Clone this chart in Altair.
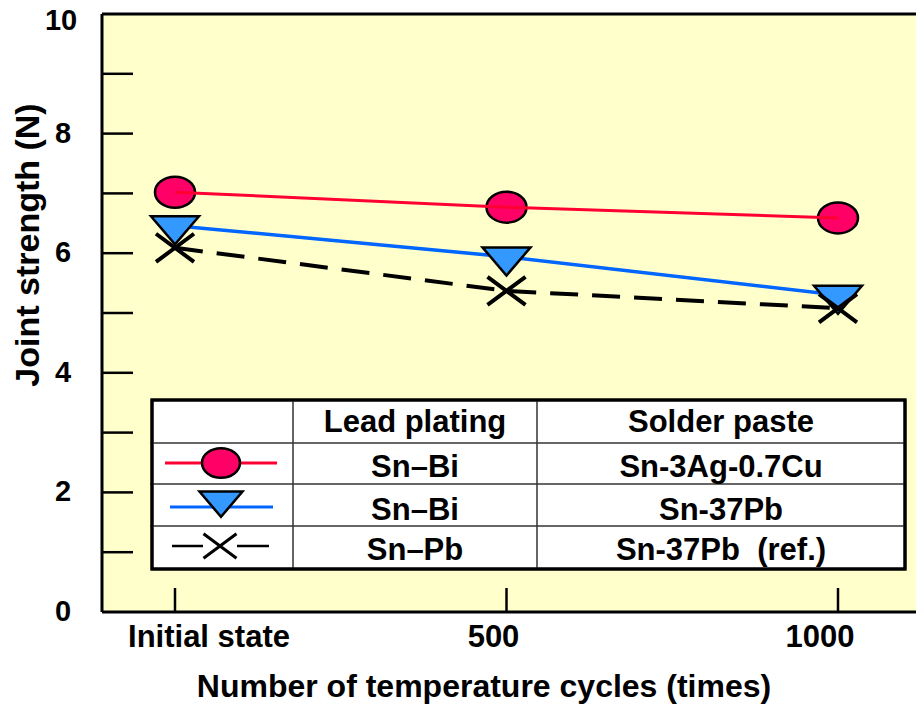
import altair as alt
import pandas as pd

# ---------------- data ----------------
categories = ["Initial state", "500", "1000"]
cycle_idx = [0, 1, 2]
snbi_sac = [7.02, 6.77, 6.59]      # Sn-Bi plating / Sn-3Ag-0.7Cu paste
snbi_snpb = [6.46, 5.94, 5.30]     # Sn-Bi plating / Sn-37Pb paste
snpb_snpb = [6.09, 5.37, 5.08]     # Sn-Pb plating / Sn-37Pb paste (ref.)
lead_plating = ["Sn–Bi", "Sn–Bi", "Sn–Pb"]
solder_paste = ["Sn-3Ag-0.7Cu", "Sn-37Pb", "Sn-37Pb\u00a0 (ref.)"]
header = ["Lead plating", "Solder paste"]
y_label_values = [0, 2, 4, 6, 8, 10]
y_minor_ticks = [1, 2, 3, 4, 5, 6, 7, 8, 9]

FONT = "Liberation Sans"
W, H = 814, 598
BG = "#FFFFCC"
RED_LINE, RED_FILL = "#FF0033", "#FF0066"
BLUE_LINE, BLUE_FILL = "#0066FF", "#3399FF"

ELLIPSE = ("M-1,0C-1,-0.428 -0.552,-0.775 0,-0.775C0.552,-0.775 1,-0.428 1,0"
           "C1,0.428 0.552,0.775 0,0.775C-0.552,0.775 -1,0.428 -1,0Z")
TRI_DOWN = "M-1,-0.39L1,-0.39L0,0.78Z"
XMARK = "M-1,-0.74L1,0.74M-1,0.74L1,-0.74"

xscale = alt.Scale(domain=[-0.2202, 2.2353], nice=False, zero=False)
yscale = alt.Scale(domain=[0, 10], nice=False, zero=True)

def series_df(vals):
    return pd.DataFrame({"idx": cycle_idx, "v": vals})

one = pd.DataFrame({"a": [0]})
X = alt.X("idx:Q", scale=xscale, axis=None)
Y = alt.Y("v:Q", scale=yscale, axis=None)

layers = []

# minor ticks on y (inside)
layers.append(alt.Chart(pd.DataFrame({"v": y_minor_ticks})).mark_rule(
    color="black", strokeWidth=2.5).encode(
    y=Y, x=alt.value(0), x2=alt.value(31)))
# x ticks (inside)
layers.append(alt.Chart(pd.DataFrame({"idx": cycle_idx})).mark_rule(
    color="black", strokeWidth=2.5).encode(
    x=X, y=alt.value(574), y2=alt.value(598)))
# borders (left, top, bottom)
layers.append(alt.Chart(one).mark_rule(color="black", strokeWidth=3).encode(
    x=alt.value(0), y=alt.value(0), y2=alt.value(H)))
layers.append(alt.Chart(one).mark_rule(color="black", strokeWidth=3).encode(
    x=alt.value(0), x2=alt.value(W), y=alt.value(0)))
layers.append(alt.Chart(one).mark_rule(color="black", strokeWidth=3).encode(
    x=alt.value(0), x2=alt.value(W), y=alt.value(H)))

# series
layers.append(alt.Chart(series_df(snbi_snpb)).mark_line(
    color=BLUE_LINE, strokeWidth=3.5).encode(x=X, y=Y))
layers.append(alt.Chart(series_df(snbi_snpb)).mark_point(
    shape=TRI_DOWN, size=2304, filled=True, fill=BLUE_FILL, stroke="black",
    strokeWidth=2.5, opacity=1).encode(x=X, y=Y))
layers.append(alt.Chart(series_df(snpb_snpb)).mark_line(
    color="black", strokeWidth=4, strokeDash=[28, 14]).encode(x=X, y=Y))
layers.append(alt.Chart(series_df(snpb_snpb)).mark_point(
    shape=XMARK, size=1444, filled=False, stroke="black",
    strokeWidth=4, opacity=1).encode(x=X, y=Y))
layers.append(alt.Chart(series_df(snbi_sac)).mark_point(
    shape=ELLIPSE, size=1600, filled=True, fill=RED_FILL, stroke="black",
    strokeWidth=2.5, opacity=1).encode(x=X, y=Y))
layers.append(alt.Chart(series_df(snbi_sac)).mark_line(
    color=RED_LINE, strokeWidth=3).encode(x=X, y=Y))

# legend table
TL, TR, TT, TB = 50, 803, 386, 555
layers.append(alt.Chart(one).mark_rect(fill="white", stroke="black", strokeWidth=3).encode(
    x=alt.value(TL), x2=alt.value(TR), y=alt.value(TT), y2=alt.value(TB)))
for yy in [429, 470, 512]:
    layers.append(alt.Chart(one).mark_rule(color="#333333", strokeWidth=1.5).encode(
        x=alt.value(TL - 2), x2=alt.value(TR), y=alt.value(yy)))
for xx in [191, 435]:
    layers.append(alt.Chart(one).mark_rule(color="#333333", strokeWidth=1.5).encode(
        x=alt.value(xx), y=alt.value(TT), y2=alt.value(TB)))
layers.append(alt.Chart(one).mark_rect(fill=None, stroke="black", strokeWidth=3).encode(
    x=alt.value(TL), x2=alt.value(TR), y=alt.value(TT), y2=alt.value(TB)))

col_x = [313, 619]
row_base = [463, 506, 546]
txt = dict(font=FONT, fontWeight="bold", fontSize=31, color="black",
           align="center", baseline="alphabetic")
for cx, h in zip(col_x, header):
    layers.append(alt.Chart(one).mark_text(text=h, **txt).encode(
        x=alt.value(cx), y=alt.value(418)))
for i in range(3):
    layers.append(alt.Chart(one).mark_text(text=lead_plating[i], **txt).encode(
        x=alt.value(col_x[0]), y=alt.value(row_base[i])))
    layers.append(alt.Chart(one).mark_text(text=solder_paste[i], **txt).encode(
        x=alt.value(col_x[1]), y=alt.value(row_base[i])))

# legend symbols
layers.append(alt.Chart(one).mark_rule(color=RED_LINE, strokeWidth=3).encode(
    x=alt.value(63), x2=alt.value(175), y=alt.value(449)))
layers.append(alt.Chart(one).mark_point(
    shape=ELLIPSE, size=1444, filled=True, fill=RED_FILL, stroke="black",
    strokeWidth=2.5, opacity=1).encode(x=alt.value(119), y=alt.value(449)))
layers.append(alt.Chart(one).mark_rule(color=BLUE_LINE, strokeWidth=3).encode(
    x=alt.value(68), x2=alt.value(171), y=alt.value(493)))
layers.append(alt.Chart(one).mark_point(
    shape=TRI_DOWN, size=1849, filled=True, fill=BLUE_FILL, stroke="black",
    strokeWidth=2.5, opacity=1).encode(x=alt.value(119), y=alt.value(486)))
layers.append(alt.Chart(one).mark_rule(color="black", strokeWidth=2.5).encode(
    x=alt.value(70), x2=alt.value(101), y=alt.value(532)))
layers.append(alt.Chart(one).mark_rule(color="black", strokeWidth=2.5).encode(
    x=alt.value(135), x2=alt.value(167), y=alt.value(532)))
layers.append(alt.Chart(one).mark_point(
    shape=XMARK, size=1089, filled=False, stroke="black",
    strokeWidth=3, opacity=1).encode(x=alt.value(118), y=alt.value(532)))

# y tick labels
ylab = pd.DataFrame({"v": y_label_values, "t": [str(v) for v in y_label_values]})
layers.append(alt.Chart(ylab).transform_filter("datum.v < 10").mark_text(
    font=FONT, fontWeight="bold", fontSize=29, color="black",
    align="center", baseline="middle").encode(
    y=Y, x=alt.value(-39), text="t:N"))
layers.append(alt.Chart(ylab).transform_filter("datum.v == 10").mark_text(
    font=FONT, fontWeight="bold", fontSize=29, color="black",
    align="center", baseline="middle", dy=7).encode(
    y=Y, x=alt.value(-41), text="t:N"))

# x tick labels
xlab = pd.DataFrame({"idx": cycle_idx, "t": categories})
xl = dict(font=FONT, fontWeight="bold", fontSize=31, color="black",
          align="center", baseline="alphabetic")
for i, dx in zip(cycle_idx, [34, -13, -18]):
    layers.append(alt.Chart(xlab).transform_filter(f"datum.idx == {i}").mark_text(
        dx=dx, **xl).encode(x=X, y=alt.value(633), text="t:N"))

# axis titles
layers.append(alt.Chart(one).mark_text(
    text="Number of temperature cycles (times)", font=FONT, fontWeight="bold",
    fontSize=32, color="black", align="center", baseline="alphabetic").encode(
    x=alt.value(382), y=alt.value(683)))
layers.append(alt.Chart(one).mark_text(
    text="Joint strength (N)", font=FONT, fontWeight="bold",
    fontSize=34, color="black", align="center", baseline="middle", angle=270).encode(
    x=alt.value(-73), y=alt.value(231)))

chart = alt.layer(*layers).properties(
    width=W, height=H,
    padding={"left": 94, "top": 6, "right": 0, "bottom": 92},
    autosize=alt.AutoSizeParams(type="none"),
    background="white",
).configure_view(stroke=None, fill=BG)

chart.save("out.html", embed_options={"renderer": "svg", "actions": False})
